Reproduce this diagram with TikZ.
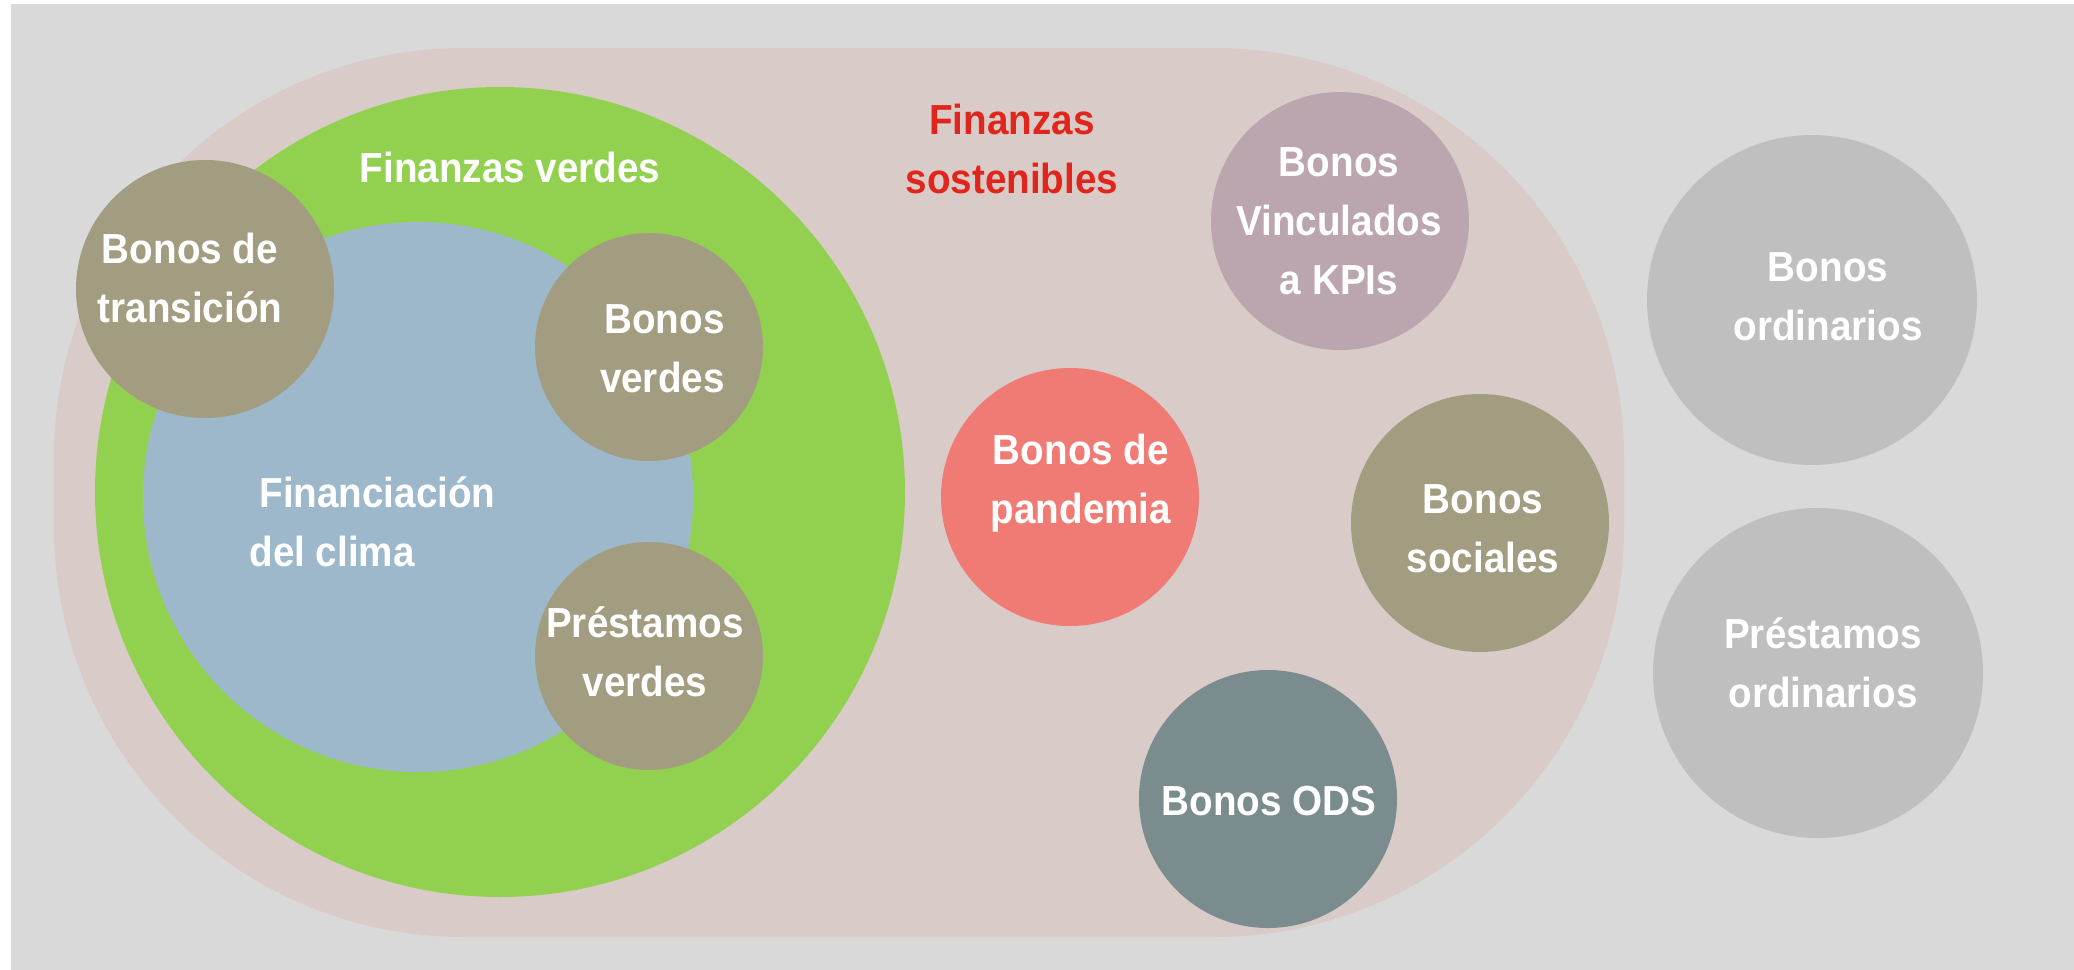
\documentclass[tikz,border=0pt]{standalone}
\usepackage{fontspec}
\setmainfont{Liberation Sans}[FakeStretch=0.92]
\definecolor{bggray}{HTML}{D9D9D9}
\definecolor{pinkbg}{HTML}{D9CBC8}
\definecolor{greenc}{HTML}{92D050}
\definecolor{bluec}{HTML}{9DB8CB}
\definecolor{olivec}{HTML}{A29D80}
\definecolor{purplec}{HTML}{BBA6B0}
\definecolor{salmonc}{HTML}{F07B75}
\definecolor{slatec}{HTML}{7B8C8E}
\definecolor{lgrayc}{HTML}{BFBFBF}
\definecolor{redtext}{HTML}{E0261C}
\tikzset{
  lbl/.style={text=white, font=\bfseries\fontsize{21}{29.3}\selectfont, align=center, inner sep=0pt, anchor=base},
  disc/.style={circle, inner sep=0pt, draw=none},
}
\begin{document}
\begin{tikzpicture}[x=0.5pt,y=-0.5pt]
\useasboundingbox (0,0) rectangle (2074,970);
\fill[white] (0,0) rectangle (2074,970);
\fill[bggray] (11,4) rectangle (2074,970);
% sustainable finance area
\fill[pinkbg, rounded corners=205pt] (54,48) rectangle (1624,937);
% green finance
\node[disc, fill=greenc, minimum size=405pt] (green) at (500,492) {};
\node[disc, fill=bluec, minimum size=275pt] (blue) at (418,497) {};
\node[disc, fill=olivec, minimum size=129pt] (trans) at (205,289) {};
\node[disc, fill=olivec, minimum size=114pt] (bverdes) at (649,347) {};
\node[disc, fill=olivec, minimum size=114pt] (pverdes) at (649,656) {};
\node[disc, fill=purplec, minimum size=129pt] (kpi) at (1340,221) {};
\node[disc, fill=salmonc, minimum size=129pt] (pand) at (1070,497) {};
\node[disc, fill=olivec, minimum size=129pt] (soc) at (1480,523) {};
\node[disc, fill=slatec, minimum size=129pt] (ods) at (1268,799) {};
\node[disc, fill=lgrayc, minimum size=165pt] (bord) at (1812,300) {};
\node[disc, fill=lgrayc, minimum size=165pt] (pord) at (1818,673) {};
% labels (anchor base = baseline of the last line)
\node[lbl] (tgreen) at (510,182) {Finanzas verdes};
\node[lbl, text=redtext] (tsost) at (1012,193) {Finanzas\\sostenibles};
\node[lbl] (ttrans) at (190,322) {Bonos de\\transición};
\node[lbl, align=right, anchor=base east] (tbverdes) at (725,392) {Bonos\\verdes};
\node[lbl, align=left, anchor=base west] (tblue) at (249,566) {\hspace*{5pt}Financiación\\del clima};
\node[lbl] (tpverdes) at (645,696) {Préstamos\\verdes};
\node[lbl] (tkpi) at (1339,294) {Bonos\\Vinculados\\a KPIs};
\node[lbl] (tpand) at (1081,523) {Bonos de\\pandemia};
\node[lbl] (tsoc) at (1483,572) {Bonos\\sociales};
\node[lbl] (tods) at (1269,815) {Bonos ODS};
\node[lbl] (tbord) at (1828,340) {Bonos\\ordinarios};
\node[lbl] (tpord) at (1823,707) {Préstamos\\ordinarios};
\end{tikzpicture}
\end{document}
